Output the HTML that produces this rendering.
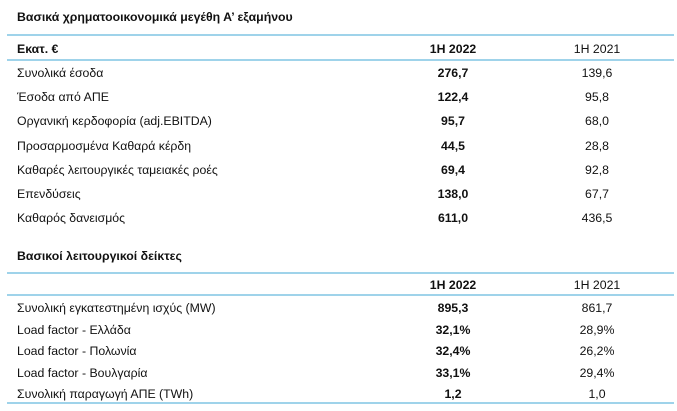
<!DOCTYPE html>
<html><head><meta charset="utf-8"><style>
body{margin:0;width:677px;height:411px;background:#fff;position:relative;overflow:hidden;font-family:"Liberation Sans","DejaVu Sans",sans-serif;font-size:12.3px;color:#111;}
.t{position:absolute;white-space:nowrap;line-height:16px;}
.l{left:17px}
.a{left:393px;width:120px;text-align:center;font-weight:bold}
.b{left:537px;width:120px;text-align:center}
.ln{position:absolute;left:7px;width:667px;height:2px;background:#9fd3ea}
.h{font-weight:bold}
</style></head><body>
<div class="t l h" style="top:9px">Βασικά χρηματοοικονομικά μεγέθη Α’ εξαμήνου</div>
<div class="ln" style="top:34px"></div>
<div class="t l h" style="top:41px">Εκατ. €</div>
<div class="t a" style="top:41px">1Η 2022</div>
<div class="t b" style="top:41px">1Η 2021</div>
<div class="ln" style="top:59px"></div>
<div id="fin"></div>
<div class="t l h" style="top:248px">Βασικοί λειτουργικοί δείκτες</div>
<div class="ln" style="top:272px"></div>
<div class="t a" style="top:277px">1Η 2022</div>
<div class="t b" style="top:277px">1Η 2021</div>
<div class="ln" style="top:294px;height:1.5px"></div>
<div class="ln" style="top:402px"></div>
<script>
const finLabels=["Συνολικά έσοδα","Έσοδα από ΑΠΕ","Οργανική κερδοφορία (adj.EBITDA)","Προσαρμοσμένα Καθαρά κέρδη","Καθαρές λειτουργικές ταμειακές ροές","Επενδύσεις","Καθαρός δανεισμός"];
const fin2022=["276,7","122,4","95,7","44,5","69,4","138,0","611,0"];
const fin2021=["139,6","95,8","68,0","28,8","92,8","67,7","436,5"];
const opLabels=["Συνολική εγκατεστημένη ισχύς (MW)","Load factor - Ελλάδα","Load factor - Πολωνία","Load factor - Βουλγαρία","Συνολική παραγωγή ΑΠΕ (TWh)"];
const op2022=["895,3","32,1%","32,4%","33,1%","1,2"];
const op2021=["861,7","28,9%","26,2%","29,4%","1,0"];
function add(cls,top,txt,name){const d=document.createElement('div');d.className='t '+cls;d.style.top=top+'px';d.textContent=txt;


document.body.appendChild(d);}
finLabels.forEach((s,i)=>{const y=65+i*24.2;add('l',y,s,'fin-row-label');add('a',y,fin2022[i],'fin-row-1h2022');add('b',y,fin2021[i],'fin-row-1h2021');});
opLabels.forEach((s,i)=>{const y=300+i*21.6;add('l',y,s,'op-row-label');add('a',y,op2022[i],'op-row-1h2022');add('b',y,op2021[i],'op-row-1h2021');});
</script>
</body></html>
